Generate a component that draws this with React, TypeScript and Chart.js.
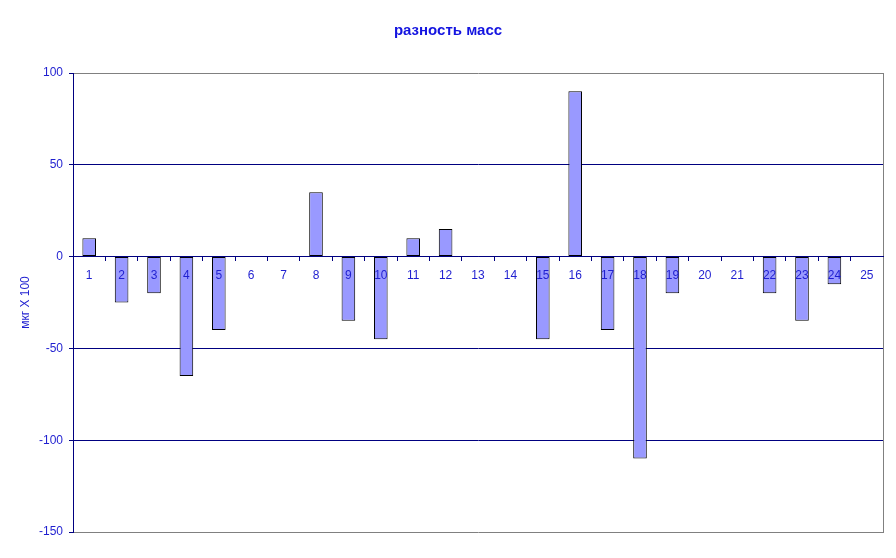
import React, { useEffect, useRef } from "react";
import { Chart, registerables } from "chart.js";

Chart.register(...registerables);

const categories = ["1","2","3","4","5","6","7","8","9","10","11","12","13","14","15","16","17","18","19","20","21","22","23","24","25"];
const massDiff = [10, -25, -20, -65, -40, 0, 0, 35, -35, -45, 10, 15, 0, 0, -45, 90, -40, -110, -20, 0, 0, -20, -35, -15, 0];
const titleText = "разность масс";
const yAxisTitle = "мкг X 100";

const NAVY = "#000080";
const GRAY = "#808080";
const TEXT = "#1f1fd0";
const FONT = "'Liberation Sans', Arial, sans-serif";

export default function App() {
  const ref = useRef<HTMLCanvasElement | null>(null);
  useEffect(() => {
    if (!ref.current) return;
    const chart = new Chart(ref.current, {
      type: "bar",
      data: {
        labels: categories,
        datasets: [
          {
            data: massDiff,
            backgroundColor: "#9999ff",
            borderColor: "#000000",
            borderWidth: 1,
            borderSkipped: false,
            categoryPercentage: 1,
            barPercentage: 0.42,
          },
        ],
      },
      options: {
        animation: false,
        responsive: false,
        maintainAspectRatio: false,
        layout: { padding: { left: 0, right: 0, top: 0, bottom: 26 } },
        plugins: {
          legend: { display: false },
          tooltip: { enabled: false },
          title: {
            display: true,
            text: titleText,
            color: "#1414e0",
            font: { family: FONT, size: 15, weight: "bold" },
            padding: { top: 22, bottom: 33 },
          },
        },
        scales: {
          x: {
            type: "category",
            position: { y: 0 },
            offset: true,
            grid: {
              offset: true,
              drawOnChartArea: false,
              drawTicks: true,
              tickLength: 4,
              color: NAVY,
              tickColor: NAVY,
            },
            border: { display: true, color: NAVY, width: 1, z: 1 },
            ticks: {
              z: 1,
              color: TEXT,
              font: { family: FONT, size: 12 },
              padding: 8,
              maxRotation: 0,
              minRotation: 0,
              autoSkip: false,
            },
          },
          y: {
            position: "left",
            min: -150,
            max: 100,
            afterFit: (scale: any) => {
              scale.width = 73;
            },
            ticks: {
              stepSize: 50,
              color: TEXT,
              padding: 6,
              font: { family: FONT, size: 12 },
            },
            grid: {
              color: (ctx: any) => {
                const v = ctx.tick ? ctx.tick.value : 0;
                return v === 100 || v === -150 ? GRAY : NAVY;
              },
              tickColor: NAVY,
              tickLength: 4,
              lineWidth: 1,
            },
            border: { display: true, color: NAVY, width: 1 },
            title: {
              display: true,
              text: yAxisTitle,
              color: TEXT,
              font: { family: FONT, size: 12 },
              padding: { top: 18, bottom: 0 },
            },
          },
          y2: {
            position: "right",
            min: -150,
            max: 100,
            afterFit: (scale: any) => {
              scale.width = 13;
            },
            ticks: { display: false },
            grid: { drawOnChartArea: false, drawTicks: false },
            border: { display: true, color: GRAY, width: 1 },
          },
        },
      },
    });
    return () => chart.destroy();
  }, []);
  return (
    <div style={{ position: "fixed", left: 0, top: 0, width: 896, height: 558, background: "#ffffff" }}>
      <canvas ref={ref} width={896} height={558} style={{ width: 896, height: 558 }} />
    </div>
  );
}
